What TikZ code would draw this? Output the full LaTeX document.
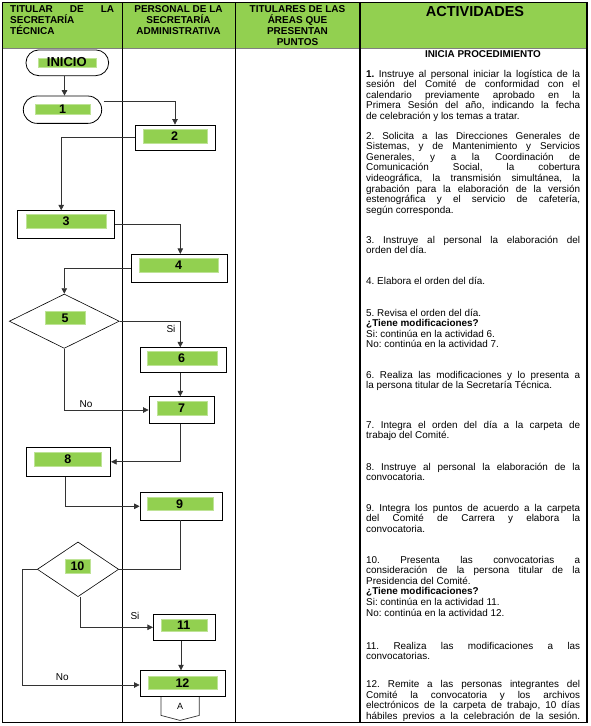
\documentclass[tikz,border=0pt]{standalone}
\usepackage{fontspec}
\setmainfont{Liberation Sans}
\usetikzlibrary{arrows.meta,shapes.geometric,calc}
\definecolor{hdrgreen}{HTML}{92D050}
\definecolor{lblgreen}{HTML}{92D050}
\newlength{\actw}\setlength{\actw}{214pt}
\newcommand{\nsp}{\frenchspacing\spaceskip=0pt\xspaceskip=0pt\relax}
\newcommand{\jl}[1]{\makebox[\actw][s]{\nsp #1}\\}
\begin{document}
\begin{tikzpicture}[x=1pt,y=-1pt,
  box/.style={draw=black,line width=0.8pt,inner sep=0pt,fill=white},
  dia/.style={diamond,draw=black,line width=0.6pt,inner sep=0pt,fill=white},
  lbl/.style={fill=lblgreen,draw=lblgreen!60!white,line width=0.4pt,inner sep=0pt,font=\fontsize{12.5}{13}\selectfont\bfseries},
  conn/.style={draw=black!80,line width=0.7pt},
  arr/.style={conn,-{Triangle[length=5.5pt,width=5.5pt]}},
  tag/.style={font=\fontsize{10}{11}\selectfont,inner sep=0pt},
  act/.style={anchor=base west,inner sep=0pt,text width=214pt,align=left,font=\fontsize{9.9}{10.6}\selectfont},
  hdr/.style={anchor=base,inner sep=0pt,font=\fontsize{10}{11}\selectfont\bfseries}
]
\useasboundingbox (0,0) rectangle (590,726);
% table
\fill[hdrgreen] (2,2) rectangle (587,48);
\draw[black!50,line width=0.6pt] (2,48) -- (587,48);
\draw[line width=0.8pt] (2,2) rectangle (587,722);
\draw[line width=0.8pt] (122.5,2) -- (122.5,722);
\draw[line width=0.8pt] (235.5,2) -- (235.5,722);
\draw[line width=1.2pt] (360,2) -- (360,722);
\draw[line width=1.2pt] (587,2) -- (587,722);
% header texts
\node[hdr,anchor=base west] (h1a) at (10,12.6) {\makebox[104pt][s]{TITULAR DE LA}};
\node[hdr,anchor=base west] (h1b) at (10,23.6) {SECRETARÍA};
\node[hdr,anchor=base west] (h1c) at (10,34.6) {TÉCNICA};
\node[hdr] (h2a) at (178.5,12.6) {PERSONAL DE LA};
\node[hdr] (h2b) at (178.5,23.6) {SECRETARÍA};
\node[hdr] (h2c) at (178.5,34.6) {ADMINISTRATIVA};
\node[hdr] (h3a) at (297.5,12.6) {TITULARES DE LAS};
\node[hdr] (h3b) at (297.5,23.6) {ÁREAS QUE};
\node[hdr] (h3c) at (297.5,34.6) {PRESENTAN};
\node[hdr] (h3d) at (297.5,45.6) {PUNTOS};
\node[hdr,font=\fontsize{14.5}{16}\selectfont\bfseries] (h4) at (475,16.2) {ACTIVIDADES};
% shapes
\node[box,rounded corners=12.8pt,minimum width=82.7pt,minimum height=25.7pt] (inicio) at (67.3,62.8) {};
\node[lbl,minimum width=58pt,minimum height=8.7pt,font=\fontsize{13}{13}\selectfont\bfseries] (linicio) at (66.8,62.3) {INICIO};
\node[box,rounded corners=13.6pt,minimum width=78.4pt,minimum height=27.3pt] (n1) at (62.5,109.7) {};
\node[lbl,minimum width=55pt,minimum height=10pt] (l1) at (62.5,109) {1};
\node[box,minimum width=80pt,minimum height=25pt] (n2) at (175,137.5) {};
\node[lbl,minimum width=64pt,minimum height=13.4pt] (l2) at (174.7,136) {2};
\node[box,minimum width=97pt,minimum height=27.6pt] (n3) at (66.2,224.5) {};
\node[lbl,minimum width=80pt,minimum height=13.4pt] (l3) at (66,221) {3};
\node[box,minimum width=96pt,minimum height=28pt] (n4) at (179,268.3) {};
\node[lbl,minimum width=79.6pt,minimum height=13.4pt] (l4) at (178.5,265) {4};
\node[dia,minimum width=110pt,minimum height=54.3pt] (d5) at (64.3,321.2) {};
\node[lbl,minimum width=40pt,minimum height=13.7pt] (l5) at (65,317.8) {5};
\node[box,minimum width=86.7pt,minimum height=24.6pt] (n6) at (183.3,360) {};
\node[lbl,minimum width=70pt,minimum height=13.3pt] (l6) at (181.7,358.3) {6};
\node[box,minimum width=65pt,minimum height=26.6pt] (n7) at (181.5,410) {};
\node[lbl,minimum width=50pt,minimum height=13.3pt] (l7) at (181.7,408.3) {7};
\node[box,minimum width=84pt,minimum height=29pt] (n8) at (68.7,461.8) {};
\node[lbl,minimum width=67.7pt,minimum height=13.4pt] (l8) at (67.8,459) {8};
\node[box,minimum width=82pt,minimum height=27.3pt] (n9) at (181,506.3) {};
\node[lbl,minimum width=66pt,minimum height=12.7pt] (l9) at (179.7,503.7) {9};
\node[dia,minimum width=81.4pt,minimum height=54.7pt] (d10) at (78,569.3) {};
\node[lbl,minimum width=25pt,minimum height=13.4pt] (l10) at (77.5,566) {10};
\node[box,minimum width=61.7pt,minimum height=26.7pt] (n11) at (184.2,627.3) {};
\node[lbl,minimum width=46pt,minimum height=12.7pt] (l11) at (183.7,625.3) {11};
\node[box,minimum width=85pt,minimum height=26pt] (n12) at (182.5,683.7) {};
\node[lbl,minimum width=69.6pt,minimum height=13.3pt] (l12) at (182.5,682.7) {12};
% off-page connector
\draw[line width=0.7pt,black!80] ($(n12.south)+(-21.5,0)$) -- ++(0,18.3) -- ($(n12.south)+(-2.5,23.3)$) -- ($(n12.south)+(16.8,18.3)$) -- ++(0,-18.3);
\node[inner sep=0pt,font=\fontsize{9}{10}\selectfont] (offA) at ($(n12.south)+(-2.5,9.5)$) {A};
% connectors
\draw[arr] (inicio.south -| 64.5,0) -- (n1.north -| 64.5,0);
\draw[arr] ($(n1.east)+(1.5,-8)$) -| (n2.north);
\draw[arr] (n2.west) -| ($(n3.north)+(-5,0)$);
\draw[arr] (n3.east) -| ($(n4.north)+(1.3,0)$);
\draw[arr] (n4.west) -| (d5.north);
\draw[arr] (d5.east) -| ($(n6.north)+(-3,0)$);
\draw[arr] ($(n6.south)+(-3,0)$) -- ($(n7.north)+(-1.2,0)$);
\draw[arr] (d5.south) |- (n7.west);
\draw[arr] ($(n7.south)+(-1.2,0)$) |- (n8.east);
\draw[arr] ($(n8.south)+(-3.4,0)$) |- (n9.west);
\draw[conn] ($(n9.south)+(-0.7,0)$) |- (d10.east);
\draw[arr] ($(d10.south)+(2.3,0)$) |- (n11.west);
\draw[arr] ($(n11.south)+(-3.2,0)$) -- ($(n12.north)+(-1.5,0)$);
\draw[arr] (d10.west) -- ++(-14.6,0) |- ($(n12.west)+(0,1.3)$);
\node[tag] (si1) at (171,329) {Si};
\node[tag] (no1) at (86,404.3) {No};
\node[tag] (si2) at (135,616) {Si};
\node[tag] (no2) at (62.3,676.7) {No};
% activities
\node[anchor=base,inner sep=0pt,font=\fontsize{9.9}{10.6}\selectfont\bfseries] (t0) at (483,57.5) {INICIA PROCEDIMIENTO};
\node[act] (t1) at (366,77) {\nsp\jl{\textbf{1.} Instruye al personal iniciar la logística de la}\jl{sesión del Comité de conformidad con el}\jl{calendario previamente aprobado en la}\jl{Primera Sesión del año, indicando la fecha}de celebración y los temas a tratar.};
\node[act] (t2) at (366,139) {\nsp\jl{2. Solicita a las Direcciones Generales de}\jl{Sistemas, y de Mantenimiento y Servicios}\jl{Generales, y a la Coordinación de}\jl{Comunicación Social, la cobertura}\jl{videográfica, la transmisión simultánea, la}\jl{grabación para la elaboración de la versión}\jl{estenográfica y el servicio de cafetería,}según corresponda.};
\node[act] (t3) at (366,243) {\nsp\jl{3. Instruye al personal la elaboración del}orden del día.};
\node[act] (t4) at (366,284) {\nsp 4. Elabora el orden del día.};
\node[act] (t5) at (366,316) {\nsp 5. Revisa el orden del día.\\\textbf{¿Tiene modificaciones?}\\Si: continúa en la actividad 6.\\No: continúa en la actividad 7.};
\node[act] (t6) at (366,378) {\nsp\jl{6. Realiza las modificaciones y lo presenta a}la persona titular de la Secretaría Técnica.};
\node[act] (t7) at (366,428) {\nsp\jl{7. Integra el orden del día a la carpeta de}trabajo del Comité.};
\node[act] (t8) at (366,470) {\nsp\jl{8. Instruye al personal la elaboración de la}convocatoria.};
\node[act] (t9) at (366,511) {\nsp\jl{9. Integra los puntos de acuerdo a la carpeta}\jl{del Comité de Carrera y elabora la}convocatoria.};
\node[act] (t10) at (366,563) {\nsp\jl{10. Presenta las convocatorias a}\jl{consideración de la persona titular de la}Presidencia del Comité.\\\textbf{¿Tiene modificaciones?}\\Si: continúa en la actividad 11.\\No: continúa en la actividad 12.};
\node[act] (t11) at (366,649) {\nsp\jl{11. Realiza las modificaciones a las}convocatorias.};
\node[act] (t12) at (366,687.5) {\nsp\jl{12. Remite a las personas integrantes del}\jl{Comité la convocatoria y los archivos}\jl{electrónicos de la carpeta de trabajo, 10 días}\makebox[\actw][s]{\nsp hábiles previos a la celebración de la sesión.}};
\end{tikzpicture}
\end{document}
